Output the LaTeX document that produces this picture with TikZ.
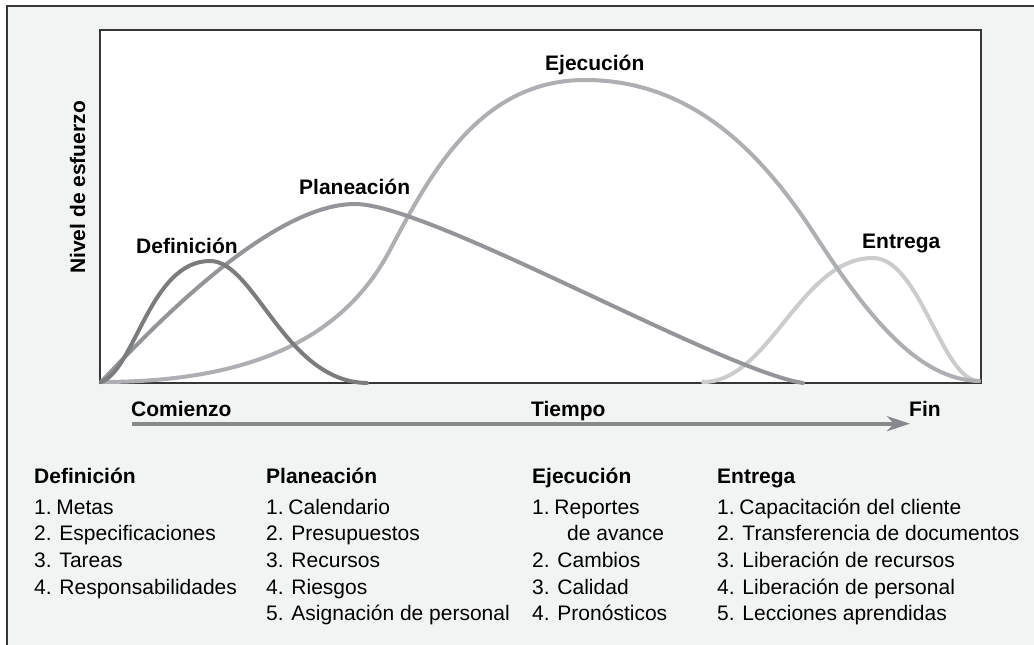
\documentclass[tikz,border=0pt]{standalone}
\usepackage{fontspec}
\setmainfont{Liberation Sans}
\usetikzlibrary{arrows.meta}
\definecolor{bgc}{HTML}{F2F4F3}
\definecolor{framec}{HTML}{363636}
\definecolor{cdef}{HTML}{7B7C7E}
\definecolor{cplan}{HTML}{949598}
\definecolor{cejec}{HTML}{AEAFB2}
\definecolor{centr}{HTML}{CBCCCD}
\definecolor{carrow}{HTML}{87888B}
\newcommand{\firstno}{1.\hspace{-3pt} }
\tikzset{
  lbl/.style={font=\fontsize{21}{24}\selectfont\bfseries, inner sep=0pt, anchor=base west},
  item/.style={font=\fontsize{21}{24}\selectfont, inner sep=0pt, anchor=base west},
  curve/.style={line width=4pt, line cap=round},
}
\begin{document}
\begin{tikzpicture}[x=1pt,y=-1pt]
\useasboundingbox (0,0) rectangle (1034,645);
% outer panel
\fill[bgc] (7.2,6.2) rectangle (1040,650);
\draw[framec, line width=2.3pt] (7.2,650) -- (7.2,6.2) -- (1040,6.2);
% plot box
\draw[framec, fill=white, line width=2pt] (100,30.3) rectangle (980.7,383);
% curves (lightest first)
\draw[curve, centr] (703,382) .. controls (770,382) and (800,258) .. (873,258)
  .. controls (920,258) and (942,381) .. (979,381);
\draw[curve, cejec] (101,382) .. controls (240,382) and (340,345) .. (390,250)
  .. controls (430,174) and (480,80) .. (585,80)
  .. controls (690,80) and (760,150) .. (815,235)
  .. controls (870,320) and (920,380) .. (979,381);
\draw[curve, cplan] (101,382) .. controls (150,330) and (270,204) .. (355,204)
  .. controls (430,204) and (720,370) .. (803,383);
\draw[curve, cdef] (101,382) .. controls (135,370) and (150,261) .. (210,261)
  .. controls (255,261) and (285,382) .. (367,383);
% curve labels
\node[lbl] (ldef) at (136,253) {Definición};
\node[lbl] (lplan) at (299,194) {Planeación};
\node[lbl] (lejec) at (545,70) {Ejecución};
\node[lbl] (lentr) at (862,248) {Entrega};
% y axis label
\node[lbl, rotate=90] (ylab) at (85,274) {Nivel de esfuerzo};
% time axis
\node[lbl] (com) at (131,416.7) {Comienzo};
\node[lbl] (tie) at (531,416.7) {Tiempo};
\node[lbl] (fin) at (909,416.7) {Fin};
\coordinate (tstart) at (132,423.7);
\coordinate (tend) at (910,423.7);
\draw[carrow, line width=4pt, -{Stealth[length=23pt, width=15pt, inset=7pt]}] (tstart) -- (tend);
% lists
\node[lbl] (hdef) at (34,483) {Definición};
\node[item] (d1) at (34,514) {\firstno Metas};
\node[item] (d2) at (34,540.7) {2. Especificaciones};
\node[item] (d3) at (34,567.4) {3. Tareas};
\node[item] (d4) at (34,594.1) {4. Responsabilidades};
\node[lbl] (hplan) at (266,483) {Planeación};
\node[item] (p1) at (266,514) {\firstno Calendario};
\node[item] (p2) at (266,540.7) {2. Presupuestos};
\node[item] (p3) at (266,567.4) {3. Recursos};
\node[item] (p4) at (266,594.1) {4. Riesgos};
\node[item] (p5) at (266,620.8) {5. Asignación de personal};
\node[lbl] (hejec) at (532,483) {Ejecución};
\node[item] (e1) at (532,514) {\firstno Reportes};
\node[item] (e1b) at (567,540.7) {de avance};
\node[item] (e2) at (532,567.4) {2. Cambios};
\node[item] (e3) at (532,594.1) {3. Calidad};
\node[item] (e4) at (532,620.8) {4. Pronósticos};
\node[lbl] (hentr) at (717,483) {Entrega};
\node[item] (n1) at (717,514) {\firstno Capacitación del cliente};
\node[item] (n2) at (717,540.7) {2. Transferencia de documentos};
\node[item] (n3) at (717,567.4) {3. Liberación de recursos};
\node[item] (n4) at (717,594.1) {4. Liberación de personal};
\node[item] (n5) at (717,620.8) {5. Lecciones aprendidas};
\end{tikzpicture}
\end{document}
